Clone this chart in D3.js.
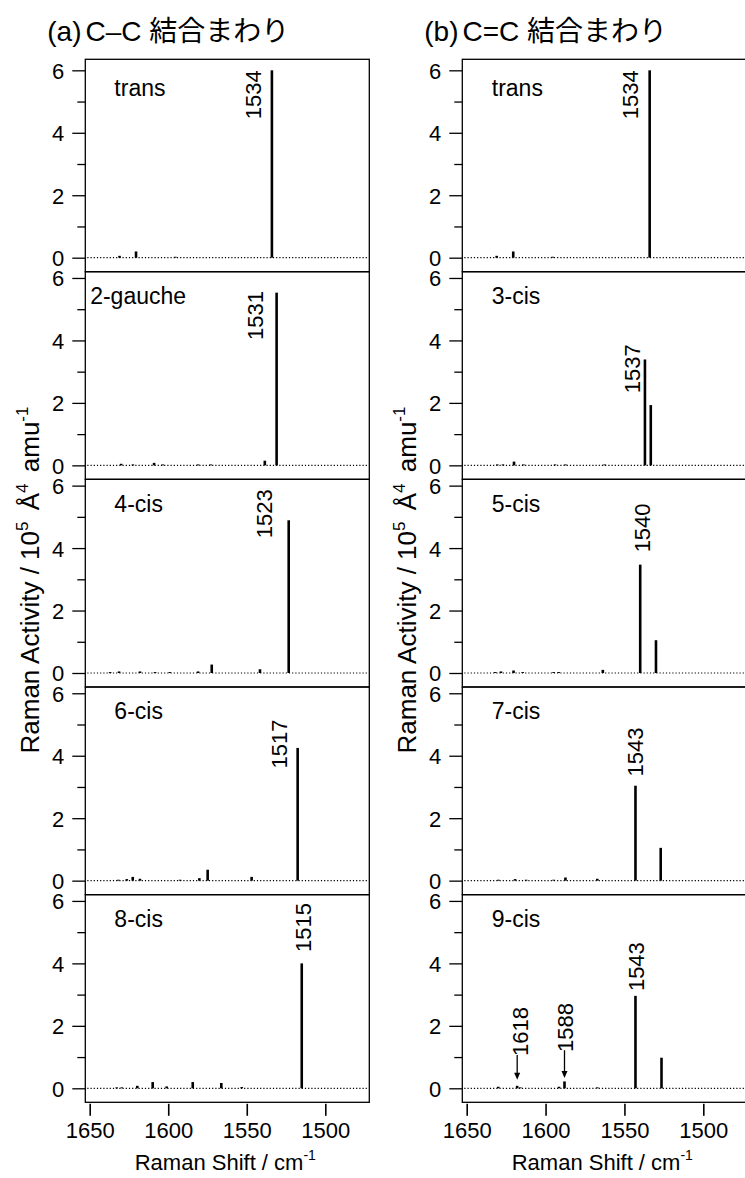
<!DOCTYPE html>
<html><head><meta charset="utf-8">
<script src="https://cdn.jsdelivr.net/npm/d3@7"></script>
<style>
body{margin:0;background:#fff;}
text{font-family:"Liberation Sans",Arial,sans-serif;fill:#000;}
</style>
</head><body>
<svg id="c" width="745" height="1178"></svg>
<script>
// ---------- DATA ----------
const columnTags = ["(a)", "(b)"];
const columnTitles = ["C–C 結合まわり", "C=C 結合まわり"];
const ccConformers = ["trans", "2-gauche", "4-cis", "6-cis", "8-cis"];
const cceConformers = ["trans", "3-cis", "5-cis", "7-cis", "9-cis"];
const xTicks = [1650, 1600, 1550, 1500];
const yTicks = [0, 2, 4, 6];
const yMinorTicks = [1, 3, 5];

// peaks: [Raman shift (cm-1), Raman activity (10^5 Å^4 amu^-1)]
const ccTrans   = [[1631,0.06],[1620.5,0.2],[1595.5,0.03],[1534,6.0]];
const cc2gauche = [[1630,0.05],[1622.5,0.03],[1609,0.08],[1603.5,0.03],[1581,0.03],[1573,0.03],[1538.5,0.15],[1531,5.53]];
const cc4cis    = [[1637,0.03],[1631.3,0.05],[1618,0.05],[1608.4,0.03],[1599,0.03],[1581,0.05],[1572.3,0.27],[1541.6,0.12],[1523.3,4.89]];
const cc6cis    = [[1631.8,0.03],[1626.4,0.05],[1622.6,0.12],[1618,0.06],[1592.5,0.03],[1580.2,0.08],[1574.9,0.35],[1546.9,0.12],[1517.6,4.25]];
const cc8cis    = [[1632.8,0.03],[1629.6,0.03],[1619.7,0.08],[1609.9,0.2],[1601,0.06],[1584.4,0.2],[1566.2,0.17],[1553.2,0.04],[1515,4.0]];

const ceTrans = [[1631,0.06],[1620.5,0.2],[1595.5,0.03],[1534,6.0]];
const ce3cis  = [[1630.6,0.03],[1627,0.03],[1620,0.12],[1614,0.03],[1594,0.03],[1587.4,0.03],[1562.6,0.03],[1537,3.39],[1533.3,1.93]];
const ce5cis  = [[1631.9,0.03],[1628.3,0.05],[1620.3,0.08],[1614.5,0.03],[1594.9,0.03],[1591.7,0.03],[1563.7,0.1],[1540,3.47],[1530,1.05]];
const ce7cis  = [[1629.9,0.03],[1619.3,0.05],[1612.3,0.03],[1594.9,0.03],[1587.4,0.1],[1567.2,0.06],[1543,3.04],[1527,1.05]];
const ce9cis  = [[1630,0.05],[1618,0.08],[1616,0.03],[1591.5,0.05],[1588,0.22],[1567.2,0.03],[1543,2.96],[1526.5,0.98]];

const ccPeaks = [ccTrans, cc2gauche, cc4cis, cc6cis, cc8cis];
const cePeaks = [ceTrans, ce3cis, ce5cis, ce7cis, ce9cis];

// conformer-name anchor (shift, activity) per panel
const ccNameAt = [[1634.3,5.17],[1649.7,5.17],[1634.3,5.17],[1634.3,5.17],[1634.3,5.17]];
const ceNameAt = [[1634.1,5.17],[1634.1,5.17],[1634.1,5.17],[1634.1,5.17],[1634.1,5.17]];

// peak labels: [panel, text, baseline shift, top-end activity]
const ccPeakLabels = [[0,"1534",1541.2,6.0],[1,"1531",1539.8,5.58],[2,"1523",1534.2,5.88],[3,"1517",1524.6,5.16],[4,"1515",1508.8,5.93]];
const cePeakLabels = [[0,"1534",1541.2,6.0],[1,"1537",1539.9,3.88],[2,"1540",1533.9,5.43],[3,"1543",1538,4.9],[4,"1543",1537.4,4.68],[4,"1618",1611,2.6],[4,"1588",1582.5,2.73]];
// arrows: [panel, shift, from activity, to activity]
const ceArrows = [[4,1618,1.07,0.27],[4,1588,1.22,0.33]];

// ---------- LAYOUT ----------
const svg = d3.select("#c");
const FONT = '"Liberation Sans", Arial, sans-serif';
const colLeft = [85.3, 462.3], colRight = [369.3, 746.3];
const xRanges = [[89.7, 325.3], [466.7, 703.3]];
const zero0 = 257.7, pitch = 207.65, unit = 31.23, below = 14, firstTop = 59.3;

const columns = [
  {tag: columnTags[0], title: columnTitles[0], names: ccConformers, peaks: ccPeaks, nameAt: ccNameAt, labels: ccPeakLabels, arrows: []},
  {tag: columnTags[1], title: columnTitles[1], names: cceConformers, peaks: cePeaks, nameAt: ceNameAt, labels: cePeakLabels, arrows: ceArrows}
];

columns.forEach((col, c) => {
  const x = d3.scaleLinear().domain([1650, 1500]).range(xRanges[c]);
  const L = colLeft[c], R = colRight[c];
  const g = svg.append("g");

  // column title
  const t = g.append("text").attr("x", L - 38).attr("y", 41)
    .style("font-size", "28px");
  t.append("tspan").text(col.tag).style("font-family", FONT);
  t.append("tspan").attr("dx", 4).text(col.title)
    .style("font-family", '"Liberation Sans", "Noto Sans CJK JP", sans-serif');

  const ys = [];
  col.names.forEach((name, p) => {
    const z = zero0 + p * pitch;
    const y = d3.scaleLinear().domain([0, 6]).range([z, z - 6 * unit]);
    ys.push(y);
    const top = p === 0 ? firstTop : zero0 + (p - 1) * pitch + below;
    const bottom = z + below;
    const pg = g.append("g");

    pg.append("rect").attr("x", L).attr("y", top)
      .attr("width", R - L).attr("height", bottom - top)
      .attr("fill", "none").attr("stroke", "#000").attr("stroke-width", 1.3);

    pg.append("line").attr("x1", L + 2).attr("x2", R - 2)
      .attr("y1", y(0)).attr("y2", y(0))
      .attr("stroke", "#000").attr("stroke-width", 1.2)
      .attr("stroke-dasharray", "1.2,2");

    pg.selectAll("line.pk").data(col.peaks[p]).join("line").attr("class", "pk")
      .attr("x1", d => x(d[0])).attr("x2", d => x(d[0]))
      .attr("y1", y(0)).attr("y2", d => y(d[1]))
      .attr("stroke", "#000").attr("stroke-width", 2.6);

    // y axis
    const ax = pg.append("g").attr("transform", `translate(${L},0)`)
      .call(d3.axisLeft(y).tickValues(yTicks).tickSize(13).tickPadding(8).tickFormat(d3.format("d")));
    ax.select(".domain").remove();
    ax.selectAll("line").attr("stroke-width", 1.3);
    ax.selectAll("text").style("font-size", "22px").style("font-family", FONT).attr("dy", "0.36em");
    const axm = pg.append("g").attr("transform", `translate(${L},0)`)
      .call(d3.axisLeft(y).tickValues(yMinorTicks).tickSize(8).tickFormat(""));
    axm.select(".domain").remove();
    axm.selectAll("line").attr("stroke-width", 1.3);

    // conformer name
    const na = col.nameAt[p];
    pg.append("text").attr("x", x(na[0])).attr("y", y(na[1]))
      .style("font-size", "23px").text(name);
  });

  // peak labels
  col.labels.forEach(([p, txt, sx, ev]) => {
    const y = ys[p];
    g.append("text").attr("transform", `translate(${x(sx)},${y(ev)}) rotate(-90)`)
      .attr("text-anchor", "end").style("font-size", "22px").text(txt);
  });
  // arrows
  col.arrows.forEach(([p, sx, a0, a1]) => {
    const y = ys[p], xx = x(sx);
    g.append("line").attr("x1", xx).attr("x2", xx).attr("y1", y(a0)).attr("y2", y(a1) - 5)
      .attr("stroke", "#000").attr("stroke-width", 1.3);
    g.append("path").attr("d", `M${xx - 3},${y(a1) - 7}L${xx + 3},${y(a1) - 7}L${xx},${y(a1)}Z`).attr("fill", "#000");
  });

  // bottom axis
  const bottomY = zero0 + 4 * pitch + below;
  const bx = g.append("g").attr("transform", `translate(0,${bottomY + 1.5})`)
    .call(d3.axisBottom(x).tickValues(xTicks).tickSize(12).tickFormat(d3.format("d")));
  bx.select(".domain").remove();
  bx.selectAll("line").attr("stroke-width", 1.6);
  bx.selectAll("text").style("font-size", "22px").style("font-family", FONT).attr("y", 34).attr("dy", 0);

  // x title
  const xt = g.append("text").attr("x", (L + R) / 2 - 2).attr("y", 1170)
    .attr("text-anchor", "middle").style("font-size", "22px");
  xt.append("tspan").text("Raman Shift / cm");
  xt.append("tspan").attr("dy", -10).style("font-size", "14px").text("-1");

  // y title
  const yt = g.append("text").attr("transform", `translate(${L - 46},580) rotate(-90)`)
    .attr("text-anchor", "middle").style("font-size", "26px");
  yt.append("tspan").text("Raman Activity / 10");
  yt.append("tspan").attr("dy", -11).style("font-size", "17px").text("5");
  yt.append("tspan").attr("dy", 11).attr("dx", 4).text(" Å");
  yt.append("tspan").attr("dy", -11).style("font-size", "17px").text("4");
  yt.append("tspan").attr("dy", 11).attr("dx", 4).text(" amu");
  yt.append("tspan").attr("dy", -11).style("font-size", "17px").text("-1");
});
</script>
</body></html>
